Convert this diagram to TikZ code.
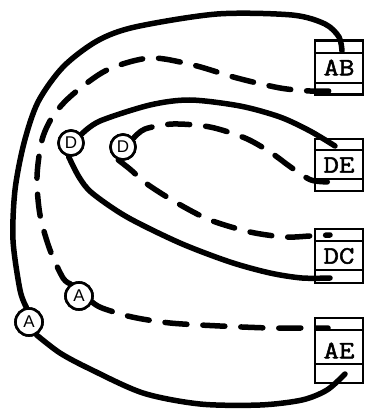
\documentclass[tikz,border=0pt]{standalone}
\usepackage{fontspec}
\newfontfamily\tagfont{Liberation Sans}
\newfontfamily\boxfont{Latin Modern Mono}[FakeBold=2, FakeStretch=1.2]
\begin{document}
\begin{tikzpicture}[x=1pt,y=-1pt,
  wire/.style={line width=5.5pt, line cap=round, line join=round},
  dashwire/.style={wire, dash pattern=on 22pt off 16pt},
  tag/.style={circle, draw, line width=2.6pt, fill=white, minimum size=25pt,
    inner sep=0pt, font=\tagfont\fontsize{17}{17}\selectfont},
  tbox/.style={draw, line width=2.2pt, minimum width=48pt, inner sep=0pt,
    font=\boxfont\fontsize{25}{25}\selectfont},
  rowline/.style={line width=2pt},
]
\useasboundingbox (0,0) rectangle (366,409);

% record boxes: a top row, the labelled row, a bottom row
\node[tbox, minimum height=54pt] (ab) at (339,67.5) {AB};
\node[tbox, minimum height=52pt] (de) at (339,165) {DE};
\node[tbox, minimum height=54pt] (dc) at (339,256) {DC};
\node[tbox, minimum height=65pt] (ae) at (339,350.5) {AE};
\foreach \b/\t/\u in {ab/14/13, de/12/13, dc/13/14, ae/13/20} {
  \draw[rowline] ([yshift=-\t pt]\b.north west) -- ([yshift=-\t pt]\b.north east);
  \draw[rowline] ([yshift=\u pt]\b.south west) -- ([yshift=\u pt]\b.south east);
}

% end points inside the rows
\coordinate (abTop) at (342,51);
\coordinate (abBot) at (330,91);
\coordinate (deTop) at (335,146);
\coordinate (deBot) at (330,182);
\coordinate (dcTop) at (330,235);
\coordinate (dcBot) at (330,278);
\coordinate (aeTop) at (328,328);
\coordinate (aeBot) at (345,374);

% circled tags
\node[tag] (d1) at (71,143) {D};
\node[tag] (d2) at (123,147) {D};
\node[tag, minimum size=27pt] (a1) at (79,296) {A};
\node[tag, minimum size=27pt] (a2) at (29,322) {A};

% outer solid loop through the big A
\draw[wire] plot[smooth] coordinates {(a2.100) (20,290) (13,240) (15,190) (24,143)
  (38,102) (63,67) (97,41) (135,27) (217,14) (292,15) (325,24) (339,37) (abTop)};
\draw[wire] plot[smooth] coordinates {(a2.-60) (60,353) (90,369) (143,393)
  (200,404) (260,405) (302,400) (327,390) (aeBot)};

% outer dashed loop through the small A
\draw[dashwire] plot[smooth] coordinates {(a1.125) (63,278) (50,250) (40,215)
  (37,177) (42,140) (53,116) (72,95) (107,70) (150,58) (193,65) (237,78)
  (280,88) (310,91) (abBot)};
\draw[dashwire] plot[smooth] coordinates {(a1.-25) (102,308) (132,317)
  (170,323) (220,326) (270,328) (305,328) (aeTop)};

% inner solid loop through the left D
\draw[wire] plot[smooth] coordinates {(d1.40) (100,121) (150,105) (190,100)
  (240,106) (280,117) (310,131) (deTop)};
\draw[wire] plot[smooth] coordinates {(d1.-100) (79,177) (92,193) (127,217)
  (180,243) (230,262) (270,273) (302,278) (dcBot)};

% inner dashed loop through the right D
\draw[dashwire] plot[smooth] coordinates {(d2.40) (145,129) (173,124) (210,127)
  (245,138) (270,152) (292,168) (311,180) (deBot)};
\draw[dashwire] plot[smooth] coordinates {(d2.-110) (131,170) (147,184)
  (177,203) (210,220) (250,232) (285,237) (310,236) (dcTop)};

% tags redrawn on top of the wire ends
\node[tag] at (d1) {D};
\node[tag] at (d2) {D};
\node[tag, minimum size=27pt] at (a1) {A};
\node[tag, minimum size=27pt] at (a2) {A};
\end{tikzpicture}
\end{document}
